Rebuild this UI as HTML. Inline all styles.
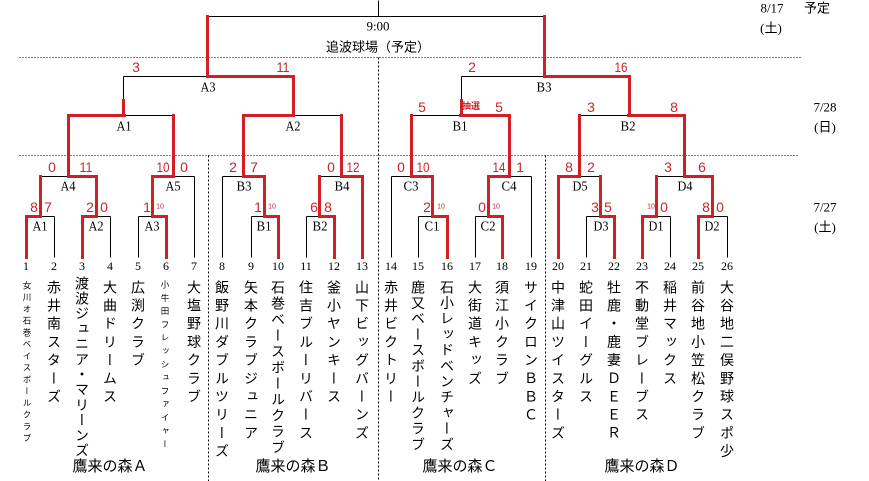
<!DOCTYPE html>
<html><head><meta charset="utf-8">
<style>
html,body{margin:0;padding:0;background:#fff;}
body{width:869px;height:481px;position:relative;overflow:hidden;font-family:"Liberation Sans","Noto Sans CJK JP",sans-serif;}
svg{position:absolute;left:0;top:0;}
.t{position:absolute;writing-mode:vertical-rl;font-family:"Liberation Sans","Noto Sans CJK JP",sans-serif;font-size:14px;line-height:20px;width:20px;white-space:nowrap;color:#000;letter-spacing:4.2px;top:280px;}
.s{font-size:8.5px;}
.g{position:absolute;top:457px;font-family:"Liberation Sans","Noto Sans CJK JP",sans-serif;font-size:15px;line-height:20px;width:100px;text-align:center;white-space:nowrap;}
</style></head><body>
<svg width="869" height="481" viewBox="0 0 869 481" xmlns="http://www.w3.org/2000/svg">
<g transform="translate(0.5,0.5)" fill="none" shape-rendering="crispEdges">
<path d="M19 57H800 M19 155H797" stroke="#000" stroke-width="1" stroke-dasharray="1,2"/>
<path d="M208 155V481 M378 57V481 M545 155V481" stroke="#000" stroke-width="1" stroke-dasharray="2,2"/>
<path stroke="#000" stroke-width="1" d="
M378 0V16 M207 16H544
M123 76H207 M123 76V100
M461 76H544 M461 76V100
M124 115H173 M292 115H341 M411 115H460 M579 115H628
M40 176H68 M173 176H194 M194 176V257 M222 176H243 M222 176V257 M319 176H341 M391 176H411 M391 176V257 M509 176H531 M531 176V257 M579 176H600 M656 176H684
M40 216H54 M54 216V257 M96 216H110 M110 216V257 M138 216H152 M138 216V257 M251 216H264 M251 216V257 M306 216H319 M306 216V257 M418 216H432 M418 216V257 M475 216H488 M475 216V257 M586 216H600 M586 216V257 M656 216H670 M670 216V257 M712 216H727 M727 216V257"/>
<path stroke="#d01f27" stroke-width="3" stroke-linecap="square" d="
M207 16V76 M544 16V76
M207 76H293V115 M123 100V115
M544 76H629V115 M461 100V115
M68 115H124 M68 115V176 M173 115V176
M243 115H292 M243 115V176 M341 115V176
M460 115H509 M411 115V176 M509 115V176
M628 115H684 M579 115V176 M684 115V176
M68 176H96 M40 176V216 M96 176V216
M152 176H173 M152 176V216
M243 176H264 M264 176V216
M341 176H362 M319 176V216 M362 176V257
M411 176H432 M432 176V216
M488 176H509 M488 176V216
M558 176H579 M558 176V257 M600 176V216
M684 176H712 M656 176V216 M712 176V216
M26 216H40 M26 216V257
M82 216H96 M82 216V257
M152 216H166 M166 216V257
M264 216H278 M278 216V257
M319 216H334 M334 216V257
M432 216H447 M447 216V257
M488 216H502 M502 216V257
M600 216H614 M614 216V257
M642 216H656 M642 216V257
M698 216H712 M698 216V257"/>
</g>

<g font-family="'Liberation Sans','Noto Sans CJK JP',sans-serif" text-anchor="middle" dominant-baseline="central">
<text x="378" y="26" font-size="13" fill="#000" font-family="'Liberation Serif',serif">9:00</text>
<text x="378" y="47" font-size="13" fill="#000">追波球場（予定）</text>
<g font-family="'Liberation Serif','Noto Sans CJK JP',serif" font-size="13" fill="#000">
<text x="772" y="8">8/17</text>
<text x="817" y="8">予定</text>
<text x="771" y="28">(土)</text>
<text x="825" y="107">7/28</text>
<text x="825" y="127">(日)</text>
<text x="825" y="207">7/27</text>
<text x="825" y="227">(土)</text>
</g>

<g font-size="14" fill="#000" font-family="'Liberation Serif',serif">
<text x="208" y="88" textLength="15" lengthAdjust="spacingAndGlyphs">A3</text>
<text x="544" y="88" textLength="15" lengthAdjust="spacingAndGlyphs">B3</text>
<text x="124" y="127" textLength="15" lengthAdjust="spacingAndGlyphs">A1</text>
<text x="293" y="127" textLength="15" lengthAdjust="spacingAndGlyphs">A2</text>
<text x="460" y="127" textLength="15" lengthAdjust="spacingAndGlyphs">B1</text>
<text x="628" y="127" textLength="15" lengthAdjust="spacingAndGlyphs">B2</text>
<text x="68" y="187" textLength="15" lengthAdjust="spacingAndGlyphs">A4</text>
<text x="173" y="187" textLength="15" lengthAdjust="spacingAndGlyphs">A5</text>
<text x="244" y="187" textLength="15" lengthAdjust="spacingAndGlyphs">B3</text>
<text x="342" y="187" textLength="15" lengthAdjust="spacingAndGlyphs">B4</text>
<text x="411" y="187" textLength="15" lengthAdjust="spacingAndGlyphs">C3</text>
<text x="509" y="187" textLength="15" lengthAdjust="spacingAndGlyphs">C4</text>
<text x="580" y="187" textLength="15" lengthAdjust="spacingAndGlyphs">D5</text>
<text x="685" y="187" textLength="15" lengthAdjust="spacingAndGlyphs">D4</text>
<text x="40" y="227" textLength="15" lengthAdjust="spacingAndGlyphs">A1</text>
<text x="96" y="227" textLength="15" lengthAdjust="spacingAndGlyphs">A2</text>
<text x="152" y="227" textLength="15" lengthAdjust="spacingAndGlyphs">A3</text>
<text x="264" y="227" textLength="15" lengthAdjust="spacingAndGlyphs">B1</text>
<text x="320" y="227" textLength="15" lengthAdjust="spacingAndGlyphs">B2</text>
<text x="432" y="227" textLength="15" lengthAdjust="spacingAndGlyphs">C1</text>
<text x="488" y="227" textLength="15" lengthAdjust="spacingAndGlyphs">C2</text>
<text x="601" y="227" textLength="15" lengthAdjust="spacingAndGlyphs">D3</text>
<text x="656" y="227" textLength="15" lengthAdjust="spacingAndGlyphs">D1</text>
<text x="712" y="227" textLength="15" lengthAdjust="spacingAndGlyphs">D2</text>
</g>

<g font-size="14" fill="#c8262d">
<text x="136" y="67">3</text>
<text x="283" y="67" textLength="13" lengthAdjust="spacingAndGlyphs">11</text>
<text x="472" y="67">2</text>
<text x="621" y="67" textLength="13" lengthAdjust="spacingAndGlyphs">16</text>
<text x="422" y="107">5</text>
<text x="471" y="106" font-size="9" font-weight="bold">抽選</text>
<text x="499" y="107">5</text>
<text x="591" y="107">3</text>
<text x="674" y="107">8</text>
<text x="52" y="167">0</text>
<text x="86" y="167" textLength="13" lengthAdjust="spacingAndGlyphs">11</text>
<text x="163" y="167" textLength="13" lengthAdjust="spacingAndGlyphs">10</text>
<text x="184" y="167">0</text>
<text x="233" y="167">2</text>
<text x="254" y="167">7</text>
<text x="331" y="167">0</text>
<text x="353" y="167" textLength="13" lengthAdjust="spacingAndGlyphs">12</text>
<text x="401" y="167">0</text>
<text x="423" y="167" textLength="13" lengthAdjust="spacingAndGlyphs">10</text>
<text x="499" y="167" textLength="13" lengthAdjust="spacingAndGlyphs">14</text>
<text x="520" y="167">1</text>
<text x="569" y="167">8</text>
<text x="591" y="167">2</text>
<text x="668" y="167">3</text>
<text x="702" y="167">6</text>
<text x="34" y="207">8</text>
<text x="48" y="207">7</text>
<text x="90" y="207">2</text>
<text x="104" y="207">0</text>
<text x="147" y="207">1</text>
<text x="160" y="207" font-size="7">10</text>
<text x="258" y="207">1</text>
<text x="272" y="207" font-size="7">10</text>
<text x="314" y="207">6</text>
<text x="328" y="207">8</text>
<text x="427" y="207">2</text>
<text x="441" y="207" font-size="7">10</text>
<text x="482" y="207">0</text>
<text x="496" y="207" font-size="7">10</text>
<text x="595" y="207">3</text>
<text x="608" y="207">5</text>
<text x="651" y="207" font-size="7">10</text>
<text x="664" y="207">0</text>
<text x="706" y="207">8</text>
<text x="720" y="207">0</text>
</g>

<g font-size="12" fill="#000" font-family="'Liberation Serif',serif">
<text x="26" y="266">1</text><text x="54" y="266">2</text><text x="82" y="266">3</text><text x="110" y="266">4</text>
<text x="138" y="266">5</text><text x="166" y="266">6</text><text x="194" y="266">7</text><text x="222" y="266">8</text>
<text x="251" y="266">9</text><text x="278" y="266">10</text><text x="306" y="266">11</text><text x="334" y="266">12</text>
<text x="362" y="266">13</text><text x="391" y="266">14</text><text x="418" y="266">15</text><text x="447" y="266">16</text>
<text x="475" y="266">17</text><text x="502" y="266">18</text><text x="531" y="266">19</text><text x="558" y="266">20</text>
<text x="586" y="266">21</text><text x="614" y="266">22</text><text x="642" y="266">23</text><text x="670" y="266">24</text>
<text x="698" y="266">25</text><text x="727" y="266">26</text>
</g>
</g>
</svg>

<div class="t s" style="left:17px;top:281px;letter-spacing:3.25px">女川オ石巻ベイスボールクラブ</div>
<div class="t" style="left:44px">赤井南スターズ</div>
<div class="t" style="left:72px;top:276px;letter-spacing:1.2px">渡波ジュニア・マリーンズ</div>
<div class="t" style="left:100px">大曲ドリームス</div>
<div class="t" style="left:128px">広渕クラブ</div>
<div class="t s" style="left:155px;top:280px;letter-spacing:4.8px">小牛田フレッシュファイャー</div>
<div class="t" style="left:184px">大塩野球クラブ</div>
<div class="t" style="left:212px">飯野川ダブルツリーズ</div>
<div class="t" style="left:241px">矢本クラブジュニア</div>
<div class="t" style="left:268px;letter-spacing:2px">石巻ベースボールクラブ</div>
<div class="t" style="left:296px">住吉ブルーリバース</div>
<div class="t" style="left:324px">釜小ヤンキース</div>
<div class="t" style="left:352px">山下ビッグバーンズ</div>
<div class="t" style="left:381px">赤井ビクトリー</div>
<div class="t" style="left:408px;letter-spacing:1.7px">鹿又ベースボールクラブ</div>
<div class="t" style="left:437px;letter-spacing:1.7px">石小レッドベンチャーズ</div>
<div class="t" style="left:465px">大街道キッズ</div>
<div class="t" style="left:492px">須江小クラブ</div>
<div class="t" style="left:521px">サイクロンＢＢＣ</div>
<div class="t" style="left:548px">中津山ツイスターズ</div>
<div class="t" style="left:576px">蛇田イーグルス</div>
<div class="t" style="left:604px">牡鹿・鹿妻ＤＥＥＲ</div>
<div class="t" style="left:632px">不動堂ブレーブス</div>
<div class="t" style="left:660px">稲井マックス</div>
<div class="t" style="left:688px">前谷地小笠松クラブ</div>
<div class="t" style="left:717px">大谷地二俣野球スポ少</div>

<div class="g" style="left:60px">鷹来の森Ａ</div>
<div class="g" style="left:243px">鷹来の森Ｂ</div>
<div class="g" style="left:410px">鷹来の森Ｃ</div>
<div class="g" style="left:592px">鷹来の森Ｄ</div>
</body></html>
